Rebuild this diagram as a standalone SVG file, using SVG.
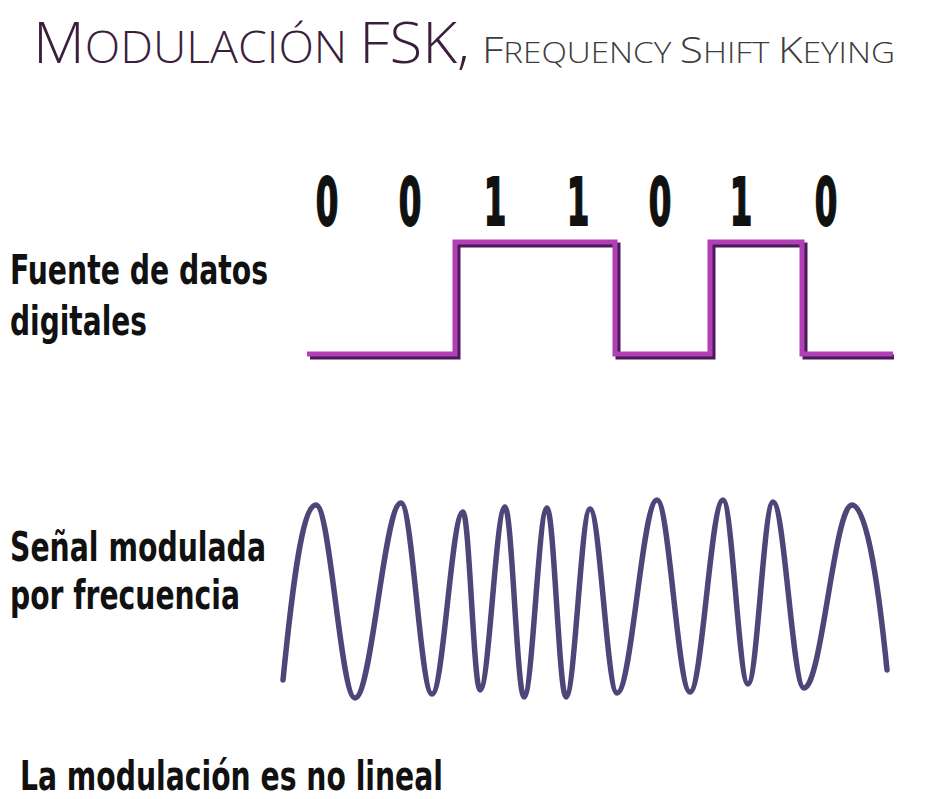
<svg xmlns="http://www.w3.org/2000/svg" width="927" height="799" viewBox="0 0 927 799">
<style>
.lbl{font-family:"DejaVu Sans","Liberation Sans",sans-serif;font-weight:bold;font-stretch:condensed;font-size:41px;fill:#111;}
.lbl2{font-size:40px;}
.dig{font-family:"DejaVu Sans","Liberation Sans",sans-serif;font-weight:bold;font-size:65px;fill:#111;stroke:#111;stroke-width:2;text-anchor:middle;}
.ttl{font-family:"Open Sans","DejaVu Sans",sans-serif;font-weight:300;}
.sq{fill:none;stroke-width:5;stroke-linejoin:miter;}
</style>
<rect width="927" height="799" fill="#ffffff"/>
<g id="title">
<text class="ttl" x="33" y="63" fill="#3b1e3c" textLength="437" lengthAdjust="spacingAndGlyphs"><tspan font-size="57">M</tspan><tspan font-size="44">ODULACIÓN </tspan><tspan font-size="57">FSK,</tspan></text>
<text class="ttl" x="482" y="63" fill="#3c3c3c" textLength="413" lengthAdjust="spacingAndGlyphs"><tspan font-size="37">F</tspan><tspan font-size="29">REQUENCY </tspan><tspan font-size="37">S</tspan><tspan font-size="29">HIFT </tspan><tspan font-size="37">K</tspan><tspan font-size="29">EYING</tspan></text>
</g>
<g id="bits">
<text class="dig" transform="translate(327,225) scale(0.5,1)">0</text>
<text class="dig" transform="translate(410,225) scale(0.5,1)">0</text>
<text class="dig" transform="translate(495,225) scale(0.5,1)">1</text>
<text class="dig" transform="translate(578,225) scale(0.5,1)">1</text>
<text class="dig" transform="translate(660,225) scale(0.5,1)">0</text>
<text class="dig" transform="translate(741,225) scale(0.5,1)">1</text>
<text class="dig" transform="translate(826,225) scale(0.5,1)">0</text>
</g>
<g id="digital-signal">
<path class="sq" stroke="#4a1a5c" d="M310,357 H458 V245 H618 V357 H713 V245 H805 V357 H894"/>
<path class="sq" stroke="#b23fb4" d="M307,354 H455 V242 H615 V354 H710 V242 H802 V354 H893"/>
</g>
<g id="fsk-signal">
<path fill="none" stroke="#4e4679" stroke-width="5.5" stroke-linecap="round" d="M283,680 C292,590 302,505 316,505 C330.2,505 340.8,698 355,698 C371.7,698 384.3,503 401,503 C412.3,503 420.7,694 432,694 C443.3,694 451.7,512 463,512 C469.2,512 473.8,690 480,690 C489.1,690 495.9,507 505,507 C511.9,507 517.1,697 524,697 C532.4,697 538.6,508 547,508 C553.9,508 559.1,697 566,697 C574.7,697 581.3,509 590,509 C599.8,509 607.2,693 617,693 C631.6,693 642.4,500 657,500 C669,500 678,692 690,692 C702,692 711,500 723,500 C732.1,500 738.9,684 748,684 C757.1,684 763.9,502 773,502 C784.3,502 792.7,688 804,688 C821.5,688 834.5,505 852,505 C868,505 880,600 887,670"/>
</g>
<g id="labels">
<text class="lbl" x="10" y="284" textLength="258" lengthAdjust="spacingAndGlyphs">Fuente de datos</text>
<text class="lbl" x="10" y="335" textLength="137" lengthAdjust="spacingAndGlyphs">digitales</text>
<text class="lbl lbl2" x="10" y="561" textLength="256" lengthAdjust="spacingAndGlyphs">Señal modulada</text>
<text class="lbl lbl2" x="10" y="609" textLength="230" lengthAdjust="spacingAndGlyphs">por frecuencia</text>
<text class="lbl" x="20" y="790" textLength="423" lengthAdjust="spacingAndGlyphs">La modulación es no lineal</text>
</g>
</svg>
